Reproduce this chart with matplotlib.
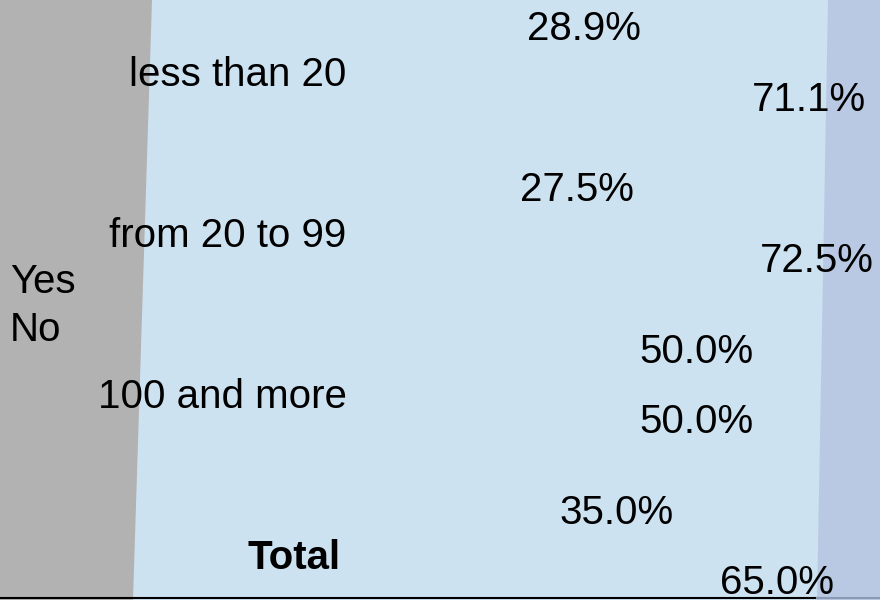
import matplotlib
matplotlib.use("Agg")
import matplotlib.pyplot as plt
from matplotlib.patches import Polygon
from matplotlib.lines import Line2D

categories = ["less than 20", "from 20 to 99", "100 and more", "Total"]
yes_pct = [28.9, 27.5, 50.0, 35.0]
no_pct = [71.1, 72.5, 50.0, 65.0]
series = ["Yes", "No"]

plt.rcParams['font.family'] = ["Liberation Sans", "DejaVu Sans"]

fig = plt.figure(figsize=(8.8, 6.0), dpi=100)
ax = fig.add_axes([0, 0, 1, 1])
ax.set_facecolor("#cde2f0")

# cropped perspective walls of the original 3d chart
ax.add_patch(Polygon([(0, 0), (133 / 880, 0), (152 / 880, 1), (0, 1)],
                     closed=True, transform=ax.transAxes,
                     facecolor="#b2b2b2", edgecolor="none", zorder=0))
ax.add_patch(Polygon([(817 / 880, 0), (828 / 880, 1), (1, 1), (1, 0)],
                     closed=True, transform=ax.transAxes,
                     facecolor="#b9c9e3", edgecolor="none", zorder=0))
ax.add_line(Line2D([0, 817 / 880], [0.003, 0.003], transform=ax.transAxes,
                   color="black", lw=1.5, zorder=1))
ax.add_line(Line2D([817 / 880, 1], [0.003, 0.003], transform=ax.transAxes,
                   color="#8a9ab5", lw=1.5, zorder=1))

fs = 29
for i, cat in enumerate(categories):
    weight = "bold" if cat == "Total" else "normal"
    xr = -27.5 if cat == "Total" else -26.4
    ax.text(xr, i + 0.01, cat, ha="right", va="center", fontsize=fs,
            fontweight=weight, zorder=3)
    ax.text(yes_pct[i], i - 0.27, "%.1f%%" % yes_pct[i], ha="right",
            va="center", fontsize=fs, zorder=3)
    ax.text(no_pct[i], i + 0.165, "%.1f%%" % no_pct[i], ha="right",
            va="center", fontsize=fs, zorder=3)

# legend entries sit loose on the left wall
fig.text(10 / 880, 1 - 282 / 600, series[0], ha="left", va="center",
         fontsize=fs)
fig.text(10 / 880, 1 - 330 / 600, series[1], ha="left", va="center",
         fontsize=fs)

ax.set_xlim(-91.4, 73.7)
ax.set_ylim(3.273, -0.453)
ax.set_xticks([])
ax.set_yticks([])
for s in ax.spines.values():
    s.set_visible(False)

fig.savefig("out.png", dpi=100)
